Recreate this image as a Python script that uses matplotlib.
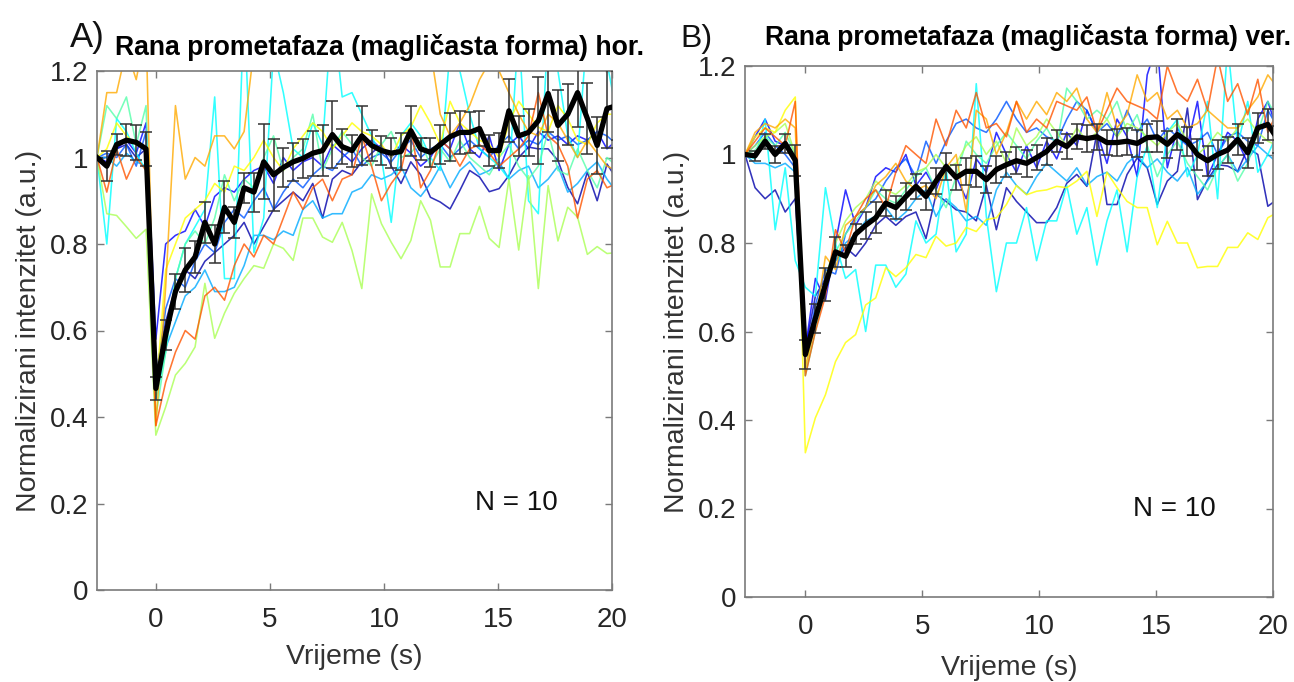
import numpy as np
import matplotlib.pyplot as plt

plt.rcParams['font.family'] = ['Liberation Sans', 'DejaVu Sans']

# frame interval (s); 6 pre-bleach frames, bleach at t = 0
DT = 0.43
t = DT * np.arange(-6, 48)

# MATLAB jet(10) colours, one per cell
CELL_COLORS = ['#0000aa', '#0000ff', '#0055ff', '#00aaff', '#00ffff',
               '#55ffaa', '#aaff55', '#ffff00', '#ffaa00', '#ff5500']

# ---------------- panel A (hor.) ----------------
mean_a = [1.00, 0.98, 1.03, 1.04, 1.035, 1.02,
          0.466, 0.59, 0.69, 0.74, 0.77, 0.85, 0.80, 0.885, 0.85, 0.93,
          0.92, 0.99, 0.96, 0.977, 0.99, 0.998, 1.01, 1.016, 1.053, 1.025,
          1.016, 1.05, 1.028, 1.016, 1.01, 1.014, 1.062, 1.02, 1.012, 1.03,
          1.048, 1.058, 1.058, 1.067, 1.016, 1.016, 1.108, 1.05, 1.058, 1.085,
          1.148, 1.074, 1.10, 1.15, 1.09, 1.028, 1.113, 1.12]
sem_a = [0.0, 0.034, 0.025, 0.037, 0.04, 0.04,
         0.026, 0.035, 0.04, 0.05, 0.037, 0.048, 0.044, 0.06, 0.035, 0.035,
         0.045, 0.087, 0.083, 0.045, 0.044, 0.045, 0.052, 0.058, 0.077, 0.04,
         0.037, 0.068, 0.035, 0.033, 0.035, 0.042, 0.058, 0.026, 0.033, 0.044,
         0.055, 0.05, 0.048, 0.04, 0.035, 0.04, 0.073, 0.046, 0.054, 0.10,
         0.09, 0.083, 0.07, 0.08, 0.083, 0.065, 0.09, 0.08]

a_navy = [1.0, 1.0, 1.02, 1.03, 1.0, 1.02,
          0.50, 0.62, 0.70, 0.74, 0.72, 0.76, 0.78, 0.80, 0.82, 0.85,
          0.80, 0.84, 0.88, 0.90, 0.92, 0.90, 0.94, 0.86, 0.95, 0.97,
          0.96, 0.99, 1.01, 1.03, 0.98, 0.94, 0.99, 0.96, 0.908, 0.897,
          0.881, 0.924, 0.97, 0.955, 0.921, 0.928, 0.958, 1.0, 1.024, 1.02,
          1.02, 0.993, 0.931, 0.893, 0.966, 0.90, 0.985, 0.95]
a_blue = [1.0, 0.99, 1.02, 1.04, 1.01, 1.08,
          0.58, 0.80, 0.82, 0.83, 0.88, 0.84, 0.91, 0.93, 0.92, 0.95,
          0.97, 0.98, 0.94, 1.0, 0.97, 0.99, 1.0, 0.98, 1.03, 1.01,
          0.99, 1.02, 1.04, 1.02, 1.0, 1.03, 1.01, 0.98, 1.0, 1.04,
          1.02, 1.08, 1.02, 1.0, 1.05, 0.97, 1.03, 1.05, 1.02, 1.06,
          1.04, 1.05, 1.03, 1.05, 1.04, 1.06, 1.02, 1.04]
a_midblue = [1.0, 1.01, 1.0, 1.03, 0.98, 1.06,
             0.48, 0.65, 0.72, 0.70, 0.76, 0.80, 0.78, 0.85, 0.88, 0.86,
             0.90, 0.93, 0.88, 0.92, 0.95, 0.93, 0.96, 0.98, 0.97, 1.0,
             1.02, 0.98, 1.0, 1.01, 0.99, 1.02, 1.04, 1.0, 1.02, 1.03,
             1.0, 1.02, 1.04, 1.02, 1.0, 1.03, 1.05, 1.02, 1.04, 1.03,
             1.06, 1.04, 1.05, 1.03, 1.04, 1.06, 1.05, 1.03]
a_lightblue = [1.0, 1.0, 0.98, 1.01, 0.99, 0.98,
               0.47, 0.56, 0.62, 0.68, 0.70, 0.74, 0.69, 0.69, 0.70, 0.75,
               0.82, 0.82, 0.81, 0.83, 0.82, 0.88, 0.90, 0.86, 0.87, 0.87,
               0.92, 0.93, 0.96, 0.95, 0.96, 0.98, 0.93, 0.91, 0.94, 0.98,
               0.93, 0.97, 0.99, 0.96, 0.97, 0.99, 0.95, 0.97, 0.98, 0.93,
               0.95, 0.98, 0.92, 0.94, 0.97, 0.99, 0.95, 0.92]
a_cyan = [1.0, 0.80, 1.09, 1.06, 1.01, 0.97,
          0.44, 0.55, 0.72, 0.80, 0.84, 0.88, 1.14, 0.72, 0.72, 1.35,
          0.78, 0.86, 1.25, 1.15, 1.02, 1.0, 1.08, 1.03, 1.35, 1.14,
          1.15, 1.10, 1.05, 1.0, 0.85, 1.05, 1.08, 1.05, 1.0, 0.97,
          1.25, 1.20, 1.10, 1.02, 1.0, 0.98, 0.95, 1.30, 0.90, 0.87,
          1.30, 1.20, 1.05, 1.0, 1.30, 1.25, 1.22, 1.10]
a_aqua = [1.0, 1.12, 1.09, 1.14, 1.03, 1.12,
          0.40, 0.55, 0.72, 0.80, 0.83, 0.80, 0.86, 0.96, 0.90, 0.95,
          0.93, 1.0, 1.05, 0.97, 1.0, 1.02, 1.10, 0.97, 1.02, 1.06,
          1.03, 1.0, 0.98, 1.03, 1.06, 1.0, 1.01, 1.04, 0.98, 1.02,
          0.99, 1.04, 1.0, 0.98, 0.96, 1.0, 1.03, 0.98, 0.95, 0.98,
          1.06, 0.97, 0.96, 1.02, 0.97, 0.93, 1.0, 0.98]
a_green = [1.0, 0.87, 0.866, 0.84, 0.813, 0.834,
           0.358, 0.423, 0.497, 0.524, 0.562, 0.709, 0.582, 0.64, 0.686, 0.72,
           0.75, 0.744, 0.80, 0.79, 0.762, 0.86, 0.86, 0.816, 0.804, 0.85,
           0.785, 0.697, 0.916, 0.847, 0.804, 0.766, 0.808, 0.90, 0.855, 0.747,
           0.747, 0.824, 0.824, 0.887, 0.813, 0.792, 0.95, 0.786, 0.958, 0.697,
           0.935, 0.807, 0.885, 0.862, 0.776, 0.794, 0.778, 0.78]
a_yellow = [1.0, 1.02, 1.08, 1.05, 1.03, 1.02,
            0.45, 0.74, 0.80, 0.86, 0.88, 0.90, 0.94, 0.92, 0.98, 0.97,
            1.0, 1.04, 1.0, 0.97, 1.02, 1.05, 1.08, 1.06, 1.02, 1.05,
            1.08, 1.06, 1.05, 1.03, 1.0, 1.05, 1.07, 1.12, 1.08, 1.03,
            1.13, 1.08, 1.06, 1.04, 1.03, 1.0, 1.08, 1.13, 1.10, 1.07,
            1.06, 1.12, 1.09, 1.04, 1.03, 1.08, 1.10, 1.10]
a_orange = [1.0, 1.15, 1.15, 1.25, 1.18, 1.30,
            0.38, 0.70, 1.12, 0.95, 1.0, 0.98, 1.05, 1.05, 1.02, 1.06,
            1.25, 1.30, 1.30, 1.32, 1.35, 1.30, 1.33, 1.36, 1.32, 1.30,
            1.34, 1.35, 1.30, 1.28, 1.32, 1.30, 1.27, 1.30, 1.25, 1.10,
            1.05, 1.08, 1.12, 1.18, 1.22, 1.20, 1.15, 1.10, 1.06, 1.05,
            1.10, 1.08, 1.04, 1.0, 1.04, 1.01, 0.98, 0.97]
a_red = [1.0, 0.92, 1.02, 0.95, 1.0, 0.97,
         0.38, 0.48, 0.55, 0.60, 0.58, 0.68, 0.70, 0.67, 0.75, 0.80,
         0.77, 0.82, 0.80, 0.86, 0.92, 0.88, 0.93, 0.95, 0.90, 0.95,
         0.96, 1.05, 0.98, 0.90, 0.94, 0.97, 1.07, 0.93, 0.97, 1.04,
         1.02, 0.98, 1.02, 1.03, 1.01, 0.98, 1.0, 1.02, 1.05, 1.15,
         1.05, 1.03, 0.98, 0.86, 0.95, 0.97, 0.93, 0.94]

# ---------------- panel B (ver.) ----------------
mean_b = [1.00, 0.997, 1.03, 1.00, 1.025, 0.987,
          0.548, 0.63, 0.706, 0.78, 0.77, 0.82, 0.84, 0.857, 0.89, 0.88,
          0.905, 0.928, 0.905, 0.94, 0.973, 0.948, 0.962, 0.962, 0.943, 0.966,
          0.977, 0.986, 0.98, 0.993, 1.007, 1.03, 1.018, 1.04, 1.036, 1.04,
          1.027, 1.027, 1.03, 1.025, 1.038, 1.04, 1.023, 1.045, 1.03, 1.0,
          0.986, 1.0, 1.01, 1.034, 1.004, 1.06, 1.068, 1.034]
sem_b = [0.0, 0.012, 0.017, 0.02, 0.022, 0.035,
         0.033, 0.033, 0.038, 0.034, 0.025, 0.022, 0.03, 0.035, 0.03, 0.026,
         0.03, 0.028, 0.03, 0.03, 0.03, 0.028, 0.03, 0.035, 0.03, 0.03,
         0.028, 0.03, 0.03, 0.028, 0.03, 0.025, 0.028, 0.028, 0.03, 0.03,
         0.028, 0.03, 0.03, 0.03, 0.032, 0.035, 0.03, 0.035, 0.033, 0.035,
         0.034, 0.032, 0.03, 0.035, 0.034, 0.034, 0.035, 0.03]

b_navy = [1.0, 0.925, 0.90, 0.92, 0.87, 0.90,
          0.56, 0.68, 0.72, 0.76, 0.79, 0.77, 0.80, 0.84, 0.86, 0.84,
          0.86, 0.87, 0.81, 0.91, 0.894, 0.875, 0.87, 0.85, 0.93, 0.83,
          0.925, 0.894, 0.87, 0.846, 0.846, 0.88, 0.935, 0.955, 0.928, 1.049,
          0.887, 0.887, 0.955, 0.992, 0.97, 0.887, 0.94, 0.962, 1.105, 0.898,
          0.943, 0.977, 0.974, 0.962, 1.015, 1.0, 0.883, 0.90]
b_blue = [1.0, 1.04, 1.08, 1.03, 1.02, 0.98,
          0.56, 0.72, 0.67, 0.80, 0.92, 0.84, 0.88, 0.95, 0.97, 0.96,
          1.0, 0.93, 0.96, 0.92, 0.98, 0.95, 0.90, 0.99, 0.96, 1.05,
          1.0, 0.96, 1.02, 0.97, 1.03, 0.99, 1.05, 1.02, 1.10, 1.05,
          0.98, 1.08, 1.04, 0.95, 1.18, 1.25, 0.97, 1.06, 1.02, 1.12,
          0.95, 1.0, 1.05, 1.03, 0.98, 1.08, 1.12, 1.05]
b_midblue = [1.0, 1.02, 1.05, 1.02, 1.0, 0.97,
             0.54, 0.66, 0.74, 0.73, 0.82, 0.86, 0.88, 0.90, 0.94, 0.97,
             0.99, 0.95, 1.03, 0.98, 1.03, 1.07, 1.08, 1.06, 1.05, 1.08,
             1.12, 1.08, 1.05, 1.06, 1.04, 1.03, 1.08, 1.12, 1.10, 1.05,
             1.07, 1.04, 1.10, 1.05, 1.08, 1.03, 1.06, 1.04, 1.02, 1.03,
             1.05, 1.0, 1.04, 1.05, 1.03, 1.02, 1.10, 1.06]
b_lightblue = [1.0, 0.98, 0.98, 0.97, 0.98, 0.96,
               0.55, 0.64, 0.72, 0.76, 0.80, 0.82, 0.85, 0.86, 0.88, 0.85,
               0.87, 0.90, 0.92, 0.86, 0.90, 0.88, 0.85, 0.86, 0.84, 0.92,
               0.96, 0.93, 0.91, 0.95, 0.98, 0.96, 0.94, 0.97, 0.93, 0.95,
               0.96, 0.94, 0.98, 1.0, 0.97, 0.99, 0.96, 0.94, 0.97, 0.91,
               0.94, 0.97, 1.0, 0.96, 0.99, 1.02, 1.0, 0.98]
b_cyan = [1.0, 0.99, 1.08, 0.83, 0.97, 0.76,
          0.70, 0.68, 0.925, 0.80, 0.72, 0.74, 0.60, 0.75, 0.75, 0.70,
          0.73, 0.85, 0.80, 0.82, 0.97, 0.78, 0.82, 1.16, 0.86, 0.69,
          0.80, 0.80, 0.88, 0.76, 0.85, 0.85, 0.93, 0.82, 0.88, 0.75,
          0.85, 0.92, 0.78, 0.95, 1.02, 0.88, 1.05, 1.08, 0.95, 1.0,
          1.12, 0.90, 1.25, 1.02, 1.12, 0.96, 1.0, 1.05]
b_aqua = [1.0, 1.01, 1.04, 1.02, 1.05, 1.0,
          0.50, 0.60, 0.70, 0.78, 0.82, 0.85, 0.88, 0.92, 0.90, 0.89,
          0.92, 0.95, 0.97, 0.92, 0.88, 0.95, 1.03, 1.0, 0.98, 1.02,
          1.05, 1.02, 0.99, 1.03, 1.06, 1.02, 1.15, 1.12, 1.08, 1.10,
          1.08, 1.12, 1.05, 1.09, 1.02, 0.95, 1.0, 1.03, 0.98, 0.95,
          0.92, 0.97, 1.0, 0.94, 0.98, 1.05, 1.12, 1.08]
b_green = [1.0, 1.02, 1.04, 1.05, 1.07, 1.0,
           0.51, 0.62, 0.72, 0.80, 0.85, 0.88, 0.90, 0.94, 0.92, 0.91,
           0.93, 0.96, 0.97, 1.0, 0.97, 0.98, 1.02, 1.04, 1.0, 1.03,
           0.98, 1.06, 1.02, 1.04, 1.08, 1.05, 1.02, 1.06, 1.03, 1.05,
           1.08, 1.04, 1.07, 1.06, 1.04, 1.02, 1.05, 1.07, 1.03, 1.0,
           1.02, 1.05, 1.03, 1.06, 1.08, 1.05, 1.03, 1.02]
b_yellow = [1.0, 1.04, 1.06, 1.05, 1.10, 1.13,
            0.326, 0.405, 0.457, 0.532, 0.575, 0.593, 0.66, 0.676, 0.744, 0.724,
            0.744, 0.774, 0.767, 0.815, 0.793, 0.80, 0.835, 0.826, 0.853, 0.857,
            0.887, 0.93, 0.909, 0.917, 0.92, 0.928, 0.925, 0.94, 0.962, 0.86,
            0.96, 0.925, 0.894, 0.88, 0.88, 0.796, 0.849, 0.80, 0.80, 0.744,
            0.747, 0.747, 0.79, 0.79, 0.823, 0.808, 0.857, 0.87]
b_orange = [1.0, 1.05, 1.07, 1.06, 1.08, 1.06,
            0.52, 0.62, 0.77, 0.74, 0.84, 0.86, 0.88, 0.93, 0.95, 0.98,
            0.94, 0.92, 0.93, 0.90, 0.97, 1.0, 0.87, 1.10, 1.08, 1.0,
            1.05, 1.12, 1.08, 1.12, 1.09, 1.14, 1.12, 1.15, 1.08, 1.05,
            1.14, 1.06, 1.09, 1.18, 1.12, 1.14, 1.08, 1.10, 1.06, 1.07,
            1.10, 1.08, 1.06, 1.06, 1.10, 1.13, 1.18, 1.15]
b_red = [1.0, 1.03, 1.06, 1.04, 1.02, 1.12,
         0.50, 0.60, 0.68, 0.83, 0.78, 0.86, 0.90, 0.92, 0.88, 0.96,
         1.02, 1.0, 0.98, 1.08, 1.02, 1.10, 1.06, 1.14, 1.06, 1.07,
         1.04, 1.12, 1.05, 1.08, 1.06, 1.12, 1.11, 1.10, 1.13, 1.05,
         1.10, 1.15, 1.12, 1.11, 1.10, 1.08, 1.20, 1.14, 1.12, 1.17,
         1.10, 1.22, 1.12, 1.16, 1.09, 1.17, 1.05, 1.10]

cells_a = [a_navy, a_blue, a_midblue, a_lightblue, a_cyan,
           a_aqua, a_green, a_yellow, a_orange, a_red]
cells_b = [b_navy, b_blue, b_midblue, b_lightblue, b_cyan,
           b_aqua, b_green, b_yellow, b_orange, b_red]

SPINE = '#7a7a7a'
TEXT = '#333333'


def draw_panel(ax, cells, mean, sem, xlabelpad):
    for trace, col in zip(cells, CELL_COLORS):
        ax.plot(t, trace, color=col, lw=1.15, alpha=0.8, zorder=2)
    ax.errorbar(t, mean, yerr=sem, fmt='none', ecolor='#333333',
                elinewidth=1.3, capsize=4.5, capthick=1.3, alpha=0.85, zorder=3)
    ax.plot(t, mean, color='black', lw=3.8, zorder=4)

    ax.set_xlim(-2.58, 20)
    ax.set_ylim(0, 1.2)
    ax.set_xticks([0, 5, 10, 15, 20])
    ax.set_yticks([0, 0.2, 0.4, 0.6, 0.8, 1.0, 1.2])
    ax.set_yticklabels(['0', '0.2', '0.4', '0.6', '0.8', '1', '1.2'])
    ax.tick_params(direction='in', top=True, right=True, length=5,
                   width=1, color=SPINE, labelsize=20, labelcolor='#262626')
    ax.tick_params(axis='x', pad=12)
    ax.tick_params(axis='y', pad=6)
    for sp in ax.spines.values():
        sp.set_color(SPINE)
        sp.set_linewidth(1.2)
    ax.set_xlabel('Vrijeme (s)', fontsize=20.5, color=TEXT, labelpad=xlabelpad)
    ax.set_ylabel('Normalizirani intenzitet (a.u.)', fontsize=20.5,
                  color=TEXT, labelpad=6)
    ax.text(14.0, 0.2, 'N = 10', fontsize=20, color='#111111',
            ha='left', va='center')


fig = plt.figure(figsize=(12.94, 6.82), dpi=100)
ax_a = fig.add_axes([97 / 1294, 1 - 590 / 682, 515 / 1294, 519 / 682])
ax_b = fig.add_axes([745 / 1294, 1 - 597 / 682, 528 / 1294, 531 / 682])

draw_panel(ax_a, cells_a, mean_a, sem_a, 8)
draw_panel(ax_b, cells_b, mean_b, sem_b, 11)

# panel letters and titles
fig.text(70 / 1294, 1 - 47 / 682, 'A)', fontsize=25, color='#111111')
fig.text(115 / 1294, 1 - 55 / 682, 'Rana prometafaza (magličasta forma) hor.',
         fontsize=19.2, fontweight='bold', color='black')
fig.text(680 / 1294, 1 - 47 / 682, 'B)', fontsize=23, color='#111111')
fig.text(765 / 1294, 1 - 45 / 682, 'Rana prometafaza (magličasta forma) ver.',
         fontsize=19.2, fontweight='bold', color='black')

fig.savefig('out.png', dpi=100, facecolor='white')
